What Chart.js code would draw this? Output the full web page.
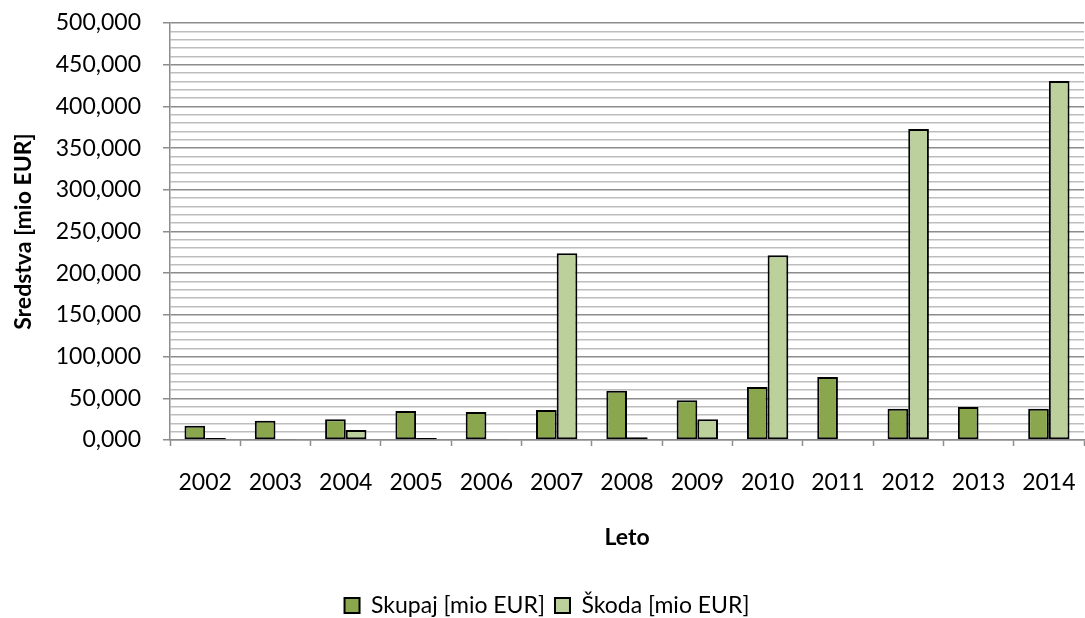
<!DOCTYPE html>
<html>
<head>
<meta charset="utf-8">
<script src="https://cdn.jsdelivr.net/npm/chart.js@4/dist/chart.umd.min.js"></script>
<style>
  html, body { margin: 0; padding: 0; background: #ffffff; }
  #wrap { width: 1085px; height: 618px; }
</style>
</head>
<body>
<div id="wrap"><canvas id="sredstvaChart" width="1085" height="618"></canvas></div>
<script>
const years = ["2002", "2003", "2004", "2005", "2006", "2007", "2008", "2009", "2010", "2011", "2012", "2013", "2014"];
const skupaj = [17.0, 23.0, 24.8, 34.8, 33.5, 36.0, 59.0, 47.6, 63.5, 75.5, 37.5, 39.6, 37.5];
const skoda = [2.5, 0.5, 12.0, 2.5, 0.5, 224.0, 3.3, 24.8, 221.5, null, 373.0, null, 430.5];

const FONT = "Lato, 'Open Sans', sans-serif";
const majorGrid = "#8c8c8c";
const minorGrid = "#bdbdbd";

Chart.defaults.font.family = FONT;
Chart.defaults.font.size = 23;
Chart.defaults.color = "#000000";

// 12.5 -> "12,500"
function fmt(v) {
  return v.toFixed(3).replace(".", ",");
}

const ctx = document.getElementById("sredstvaChart").getContext("2d");

new Chart(ctx, {
  type: "bar",
  data: {
    labels: years,
    datasets: [
      {
        label: "Skupaj [mio EUR]",
        data: skupaj,
        backgroundColor: "#8ba74e",
        borderColor: "#000000",
        borderWidth: 2,
        borderSkipped: false
      },
      {
        label: "Škoda [mio EUR]",
        data: skoda,
        backgroundColor: "#bbd09a",
        borderColor: "#000000",
        borderWidth: 2,
        borderSkipped: false
      }
    ]
  },
  options: {
    responsive: false,
    animation: false,
    devicePixelRatio: 1,
    layout: { padding: { top: 23, right: 1, left: 10, bottom: -9 } },
    datasets: {
      bar: { categoryPercentage: 0.588, barPercentage: 1.0 }
    },
    plugins: {
      tooltip: { enabled: false },
      legend: {
        position: "bottom",
        labels: {
          boxWidth: 15,
          boxHeight: 15,
          padding: 10,
          color: "#000000",
          font: { size: 23, family: FONT }
        }
      }
    },
    scales: {
      x: {
        grid: {
          offset: true,
          drawOnChartArea: false,
          drawTicks: true,
          tickLength: 6,
          tickColor: majorGrid,
          tickWidth: 1.5
        },
        border: { color: majorGrid, width: 1.5 },
        ticks: { padding: 23, maxRotation: 0, autoSkip: false, color: "#000000" },
        title: {
          display: true,
          text: "Leto",
          font: { size: 23, weight: "bold", family: FONT },
          padding: { top: 24, bottom: 33 },
          color: "#000000"
        },
        afterFit: function (scale) {
          scale.height = 144;
          scale.paddingLeft = 0;
          scale.paddingRight = 0;
        }
      },
      y: {
        min: 0,
        max: 500,
        grid: {
          color: c => (c.tick && c.tick.value % 50 === 0) ? majorGrid : minorGrid,
          lineWidth: 1.5,
          tickLength: 7,
          tickColor: c => (c.tick && c.tick.value % 50 === 0) ? majorGrid : "rgba(0,0,0,0)"
        },
        border: { color: majorGrid, width: 1.5 },
        ticks: {
          stepSize: 10,
          autoSkip: false,
          padding: 22,
          color: "#000000",
          callback: v => (v % 50 === 0 ? fmt(v) : "")
        },
        title: {
          display: true,
          text: "Sredstva [mio EUR]",
          font: { size: 23, weight: "bold", family: FONT },
          padding: { top: 0, bottom: 0 },
          color: "#000000"
        },
        afterFit: function (scale) {
          scale.width = 160;
          scale.paddingTop = 0;
          scale.paddingBottom = 0;
        }
      }
    }
  }
});
</script>
</body>
</html>
